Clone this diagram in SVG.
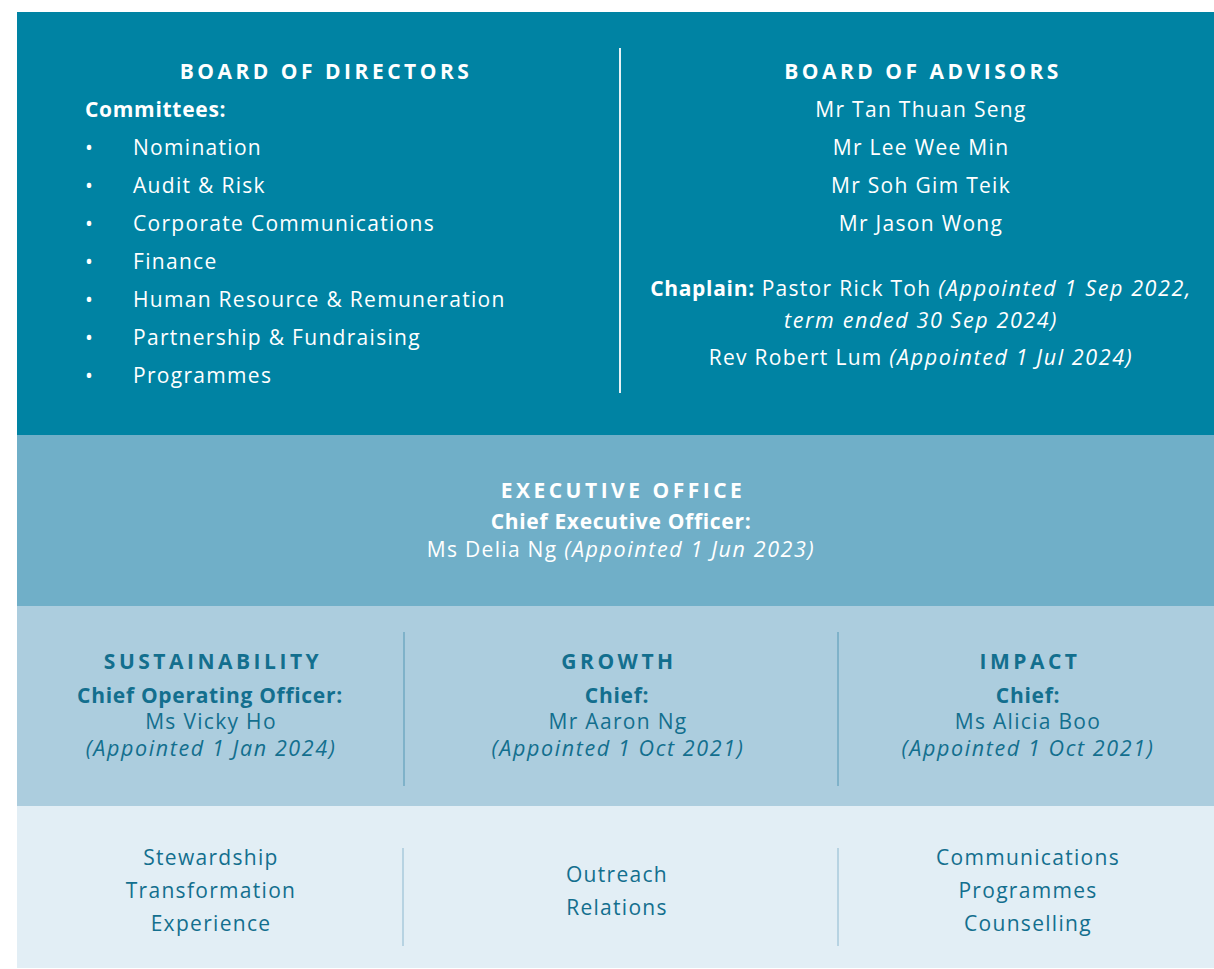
<svg xmlns="http://www.w3.org/2000/svg" width="1214" height="969" viewBox="0 0 1214 969">
  <style>
    text { font-family: "Open Sans", "Noto Sans", "Liberation Sans", sans-serif; font-size: 21px; letter-spacing: 1.3px; }
    .w { fill: #ffffff; }
    .d { fill: #136f8e; }
    .head { font-weight: 700; letter-spacing: 3.5px; font-size: 21px; }
    .b { font-weight: 700; letter-spacing: 0.7px; }
    .i { font-style: italic; letter-spacing: 1.6px; font-size: 21.5px; }
    .c { text-anchor: middle; }
    .div-w { stroke: #e6f2f6; stroke-width: 2; }
    .div-d { stroke: #7fb2c9; stroke-width: 2; }
    .div-l { stroke: #b7d3e2; stroke-width: 2; }
  </style>

  <rect width="1214" height="969" fill="#ffffff"/>

  <!-- bands -->
  <rect x="17" y="12" width="1197" height="423" fill="#0083a3"/>
  <rect x="17" y="435" width="1197" height="171" fill="#70afc8"/>
  <rect x="17" y="606" width="1197" height="200" fill="#accdde"/>
  <rect x="17" y="806" width="1197" height="162" fill="#e2eef5"/>

  <!-- dividers -->
  <g id="connectors">
    <line class="div-w" x1="620" y1="48" x2="620" y2="393"/>
    <line class="div-d" x1="404" y1="632" x2="404" y2="786"/>
    <line class="div-d" x1="838" y1="632" x2="838" y2="786"/>
    <line class="div-l" x1="403" y1="848" x2="403" y2="946"/>
    <line class="div-l" x1="838" y1="848" x2="838" y2="946"/>
  </g>

  <g id="board-of-directors">
    <text class="w head c" x="326" y="79">BOARD OF DIRECTORS</text>
    <text class="w b" x="85" y="117">Committees:</text>
    <g class="w">
      <text x="85" y="155">•</text><text x="133" y="155">Nomination</text>
      <text x="85" y="193">•</text><text x="133" y="193">Audit &amp; Risk</text>
      <text x="85" y="231">•</text><text x="133" y="231">Corporate Communications</text>
      <text x="85" y="269">•</text><text x="133" y="269">Finance</text>
      <text x="85" y="307">•</text><text x="133" y="307">Human Resource &amp; Remuneration</text>
      <text x="85" y="345">•</text><text x="133" y="345">Partnership &amp; Fundraising</text>
      <text x="85" y="383">•</text><text x="133" y="383">Programmes</text>
    </g>
  </g>

  <g id="board-of-advisors">
    <text class="w head c" x="923" y="79">BOARD OF ADVISORS</text>
    <text class="w c" x="921" y="117">Mr Tan Thuan Seng</text>
    <text class="w c" x="921" y="155">Mr Lee Wee Min</text>
    <text class="w c" x="921" y="193">Mr Soh Gim Teik</text>
    <text class="w c" x="921" y="231">Mr Jason Wong</text>
    <text class="w c" x="921" y="296"><tspan class="b">Chaplain:</tspan> Pastor Rick Toh <tspan class="i">(Appointed 1 Sep 2022,</tspan></text>
    <text class="w c i" x="921" y="328">term ended 30 Sep 2024)</text>
    <text class="w c" x="921" y="365">Rev Robert Lum <tspan class="i">(Appointed 1 Jul 2024)</tspan></text>
  </g>

  <g id="executive-office">
    <text class="w head c" x="623" y="498">EXECUTIVE OFFICE</text>
    <text class="w b c" x="621" y="529">Chief Executive Officer:</text>
    <text class="w c" x="621" y="557">Ms Delia Ng <tspan class="i">(Appointed 1 Jun 2023)</tspan></text>
  </g>

  <g id="sustainability">
    <text class="d head c" x="213" y="669">SUSTAINABILITY</text>
    <text class="d b c" x="210" y="703">Chief Operating Officer:</text>
    <text class="d c" x="211" y="729">Ms Vicky Ho</text>
    <text class="d i c" x="211" y="756">(Appointed 1 Jan 2024)</text>
  </g>

  <g id="growth">
    <text class="d head c" x="619" y="669">GROWTH</text>
    <text class="d b c" x="617" y="703">Chief:</text>
    <text class="d c" x="618" y="729">Mr Aaron Ng</text>
    <text class="d i c" x="618" y="756">(Appointed 1 Oct 2021)</text>
  </g>

  <g id="impact">
    <text class="d head c" x="1030" y="669">IMPACT</text>
    <text class="d b c" x="1028" y="703">Chief:</text>
    <text class="d c" x="1028" y="729">Ms Alicia Boo</text>
    <text class="d i c" x="1028" y="756">(Appointed 1 Oct 2021)</text>
  </g>

  <g id="sustainability-units">
    <text class="d c" x="211" y="865">Stewardship</text>
    <text class="d c" x="211" y="898">Transformation</text>
    <text class="d c" x="211" y="931">Experience</text>
  </g>

  <g id="growth-units">
    <text class="d c" x="617" y="882">Outreach</text>
    <text class="d c" x="617" y="915">Relations</text>
  </g>

  <g id="impact-units">
    <text class="d c" x="1028" y="865">Communications</text>
    <text class="d c" x="1028" y="898">Programmes</text>
    <text class="d c" x="1028" y="931">Counselling</text>
  </g>
</svg>
